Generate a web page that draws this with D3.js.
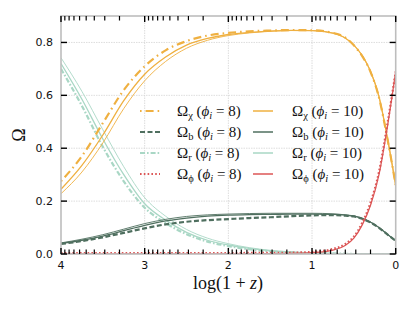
<!DOCTYPE html>
<html lang="en">
<head>
<meta charset="utf-8">
<title>density parameters</title>
<script src="https://cdn.jsdelivr.net/npm/d3@7"></script>
<style>
  body { margin: 0; background: #fff; }
  .tick-label { font-family: "DejaVu Sans", sans-serif; font-size: 11px; fill: #111; }
  .serif { font-family: "Liberation Serif", "DejaVu Serif", serif; fill: #111; }
</style>
</head>
<body>
<div id="chart"></div>
<script>
// log(1+z) sample points (left to right on the reversed axis)
var logZ = [4, 3.75, 3.5, 3.25, 3, 2.75, 2.5, 2.25, 2, 1.75, 1.5, 1.25, 1, 0.75, 0.6, 0.5, 0.4, 0.3, 0.2, 0.1, 0]

// phi_i = 10 (solid)
var chi10 = [0.245, 0.335, 0.45, 0.58, 0.68, 0.745, 0.79, 0.815, 0.83, 0.838, 0.843, 0.846, 0.845, 0.835, 0.816, 0.79, 0.75, 0.69, 0.595, 0.44, 0.26]
var bar10 = [0.04, 0.052, 0.068, 0.088, 0.108, 0.125, 0.136, 0.143, 0.147, 0.149, 0.15, 0.151, 0.151, 0.15, 0.147, 0.143, 0.134, 0.12, 0.1, 0.075, 0.05]
var rad10 = [0.72, 0.585, 0.435, 0.3, 0.19, 0.128, 0.082, 0.052, 0.034, 0.021, 0.012, 0.007, 0.004, 0.002, 0.001, 0.001, 0, 0, 0, 0, 0]
var phi10 = [0, 0, 0, 0, 0, 0, 0, 0, 0.001, 0.001, 0.001, 0.002, 0.005, 0.015, 0.033, 0.06, 0.11, 0.185, 0.3, 0.48, 0.69]

// thin companion curves (no legend entry)
var chiThin = [0.228, 0.31, 0.42, 0.55, 0.655, 0.728, 0.778, 0.808, 0.826, 0.836, 0.842, 0.845, 0.845, 0.835, 0.816, 0.79, 0.75, 0.69, 0.595, 0.44, 0.26]
var barThin = [0.042, 0.056, 0.073, 0.094, 0.115, 0.131, 0.142, 0.148, 0.151, 0.153, 0.154, 0.154, 0.154, 0.152, 0.148, 0.144, 0.135, 0.121, 0.1, 0.075, 0.05]
var radThin = [0.742, 0.615, 0.47, 0.33, 0.213, 0.143, 0.093, 0.06, 0.039, 0.024, 0.014, 0.008, 0.004, 0.002, 0.001, 0.001, 0, 0, 0, 0, 0]

// phi_i = 8 (styled)
var chi8 = [0.275, 0.37, 0.495, 0.62, 0.71, 0.77, 0.805, 0.826, 0.836, 0.842, 0.845, 0.847, 0.846, 0.836, 0.818, 0.789, 0.748, 0.688, 0.592, 0.438, 0.26]
var bar8 = [0.038, 0.049, 0.063, 0.08, 0.097, 0.112, 0.122, 0.128, 0.132, 0.136, 0.139, 0.143, 0.146, 0.147, 0.145, 0.142, 0.133, 0.119, 0.099, 0.074, 0.05]
var rad8 = [0.7, 0.56, 0.405, 0.275, 0.175, 0.117, 0.075, 0.047, 0.03, 0.018, 0.01, 0.006, 0.003, 0.002, 0.001, 0, 0, 0, 0, 0, 0]
var phi8 = [0.003, 0.003, 0.003, 0.003, 0.003, 0.003, 0.003, 0.003, 0.003, 0.004, 0.004, 0.005, 0.008, 0.019, 0.038, 0.066, 0.118, 0.195, 0.31, 0.49, 0.69]

var yTicks = [0, 0.2, 0.4, 0.6, 0.8]
var xTicks = [4, 3, 2, 1, 0]

var cChi = "#efb041", cBar = "#4f6f5f", cRad = "#a9d7c5", cPhi = "#dc5656"

var W = 415, H = 312
var x = d3.scaleLinear().domain([4, 0]).range([61, 395.7])
var y = d3.scaleLinear().domain([0, 0.9]).range([254, 16])

var svg = d3.select("#chart").append("svg").attr("width", W).attr("height", H)

// grid
svg.append("g").selectAll("line").data([3, 2, 1]).enter().append("line")
  .attr("x1", d => x(d)).attr("x2", d => x(d)).attr("y1", y(0)).attr("y2", y(0.9))
  .attr("stroke", "#d4d4d4").attr("stroke-width", 0.8).attr("stroke-dasharray", "1.5,1")
svg.append("g").selectAll("line").data([0.2, 0.4, 0.6, 0.8]).enter().append("line")
  .attr("x1", x(4)).attr("x2", x(0)).attr("y1", d => y(d)).attr("y2", d => y(d))
  .attr("stroke", "#d4d4d4").attr("stroke-width", 0.8).attr("stroke-dasharray", "1.5,1")

var plot = svg.append("g")
svg.append("clipPath").attr("id", "clip").append("rect")
  .attr("x", x(4)).attr("y", y(0.9)).attr("width", x(0) - x(4)).attr("height", y(0) - y(0.9))
plot.attr("clip-path", "url(#clip)")

function drawLine(vals, color, width, dash) {
  var line = d3.line().x((d, i) => x(logZ[i])).y(d => y(d)).curve(d3.curveMonotoneX)
  plot.append("path").datum(vals).attr("d", line)
    .attr("fill", "none").attr("stroke", color).attr("stroke-width", width)
    .attr("stroke-dasharray", dash || null)
}

var dashChi = "1.6,4,8,4", dashBar = "5,2.5", dashRad = "5,2,1.6,2", dashPhi = "1.6,2.2"

drawLine(radThin, cRad, 0.9)
drawLine(rad10, cRad, 1.3)
drawLine(rad8, cRad, 2.2, dashRad)
drawLine(barThin, cBar, 0.9)
drawLine(bar10, cBar, 1.3)
drawLine(bar8, cBar, 2.2, dashBar)
drawLine(chiThin, cChi, 0.9)
drawLine(chi10, cChi, 1.3)
drawLine(chi8, cChi, 2.2, dashChi)
drawLine(phi10, cPhi, 1.3)
drawLine(phi8, cPhi, 2.2, dashPhi)

// frame
svg.append("rect").attr("x", x(4)).attr("y", y(0.9)).attr("width", x(0) - x(4)).attr("height", y(0) - y(0.9))
  .attr("fill", "none").attr("stroke", "#bdbdbd").attr("stroke-width", 1.6)

// y ticks, both sides, inward
var ty = svg.append("g")
yTicks.forEach(function (v) {
  ty.append("line").attr("x1", x(4)).attr("x2", x(4) + 6).attr("y1", y(v)).attr("y2", y(v)).attr("stroke", "#000").attr("stroke-width", 1.4)
  ty.append("line").attr("x1", x(0)).attr("x2", x(0) - 6).attr("y1", y(v)).attr("y2", y(v)).attr("stroke", "#000").attr("stroke-width", 1.4)
  ty.append("text").attr("class", "tick-label").attr("x", x(4) - 8).attr("y", y(v)).attr("dy", "0.35em")
    .attr("text-anchor", "end").text(d3.format(".1f")(v))
})

// x ticks (major + log minor), top and bottom
var minor = []
for (var n = 0; n < 4; n++) for (var k = 2; k <= 9; k++) minor.push(n + Math.log10(k))
var tx = svg.append("g")
xTicks.forEach(function (v) {
  tx.append("line").attr("x1", x(v)).attr("x2", x(v)).attr("y1", y(0)).attr("y2", y(0) - 6).attr("stroke", "#000").attr("stroke-width", 1.4)
  tx.append("line").attr("x1", x(v)).attr("x2", x(v)).attr("y1", y(0.9)).attr("y2", y(0.9) + 6).attr("stroke", "#000").attr("stroke-width", 1.4)
  tx.append("text").attr("class", "tick-label").attr("x", x(v)).attr("y", 269).attr("text-anchor", "middle").text(v)
})
minor.forEach(function (v) {
  tx.append("line").attr("x1", x(v)).attr("x2", x(v)).attr("y1", y(0)).attr("y2", y(0) - 4.5).attr("stroke", "#000").attr("stroke-width", 1.2)
  tx.append("line").attr("x1", x(v)).attr("x2", x(v)).attr("y1", y(0.9)).attr("y2", y(0.9) + 4.5).attr("stroke", "#000").attr("stroke-width", 1.2)
})

// axis labels
var xl = svg.append("text").attr("class", "serif").attr("x", 228).attr("y", 289).attr("text-anchor", "middle").attr("font-size", 18)
xl.append("tspan").text("log(1 + ")
xl.append("tspan").attr("font-style", "italic").text("z")
xl.append("tspan").text(")")
svg.append("text").attr("class", "serif").attr("font-size", 18).attr("text-anchor", "middle")
  .attr("transform", "translate(25," + 135 + ") rotate(-90)").text("Ω")

// legend
var legendItems = [
  { sub: "χ", val: "8", color: cChi, w: 2.2, dash: dashChi },
  { sub: "b", val: "8", color: cBar, w: 2.2, dash: dashBar },
  { sub: "r", val: "8", color: cRad, w: 2.2, dash: dashRad },
  { sub: "ϕ", val: "8", color: cPhi, w: 2.2, dash: dashPhi },
  { sub: "χ", val: "10", color: cChi, w: 1.5 },
  { sub: "b", val: "10", color: cBar, w: 1.5 },
  { sub: "r", val: "10", color: cRad, w: 1.5 },
  { sub: "ϕ", val: "10", color: cPhi, w: 1.5 }
]
var lg = svg.append("g")
legendItems.forEach(function (d, i) {
  var col = Math.floor(i / 4), row = i % 4
  var lx = col == 0 ? 140 : 253, tx0 = col == 0 ? 177 : 292
  var ly = 111 + row * 21
  lg.append("line").attr("x1", lx).attr("x2", lx + 20).attr("y1", ly).attr("y2", ly)
    .attr("stroke", d.color).attr("stroke-width", d.w).attr("stroke-dasharray", d.dash || null)
  var t = lg.append("text").attr("class", "serif").attr("x", tx0).attr("y", ly + 5).attr("font-size", 15)
  t.append("tspan").text("Ω")
  t.append("tspan").attr("font-size", 10.5).attr("dy", 3).text(d.sub)
  t.append("tspan").attr("dy", -3).text(" (")
  t.append("tspan").attr("font-style", "italic").text("ϕ")
  t.append("tspan").attr("font-style", "italic").attr("font-size", 10.5).attr("dy", 3).text("i")
  t.append("tspan").attr("dy", -3).text(" = " + d.val + ")")
})
</script>
</body>
</html>
